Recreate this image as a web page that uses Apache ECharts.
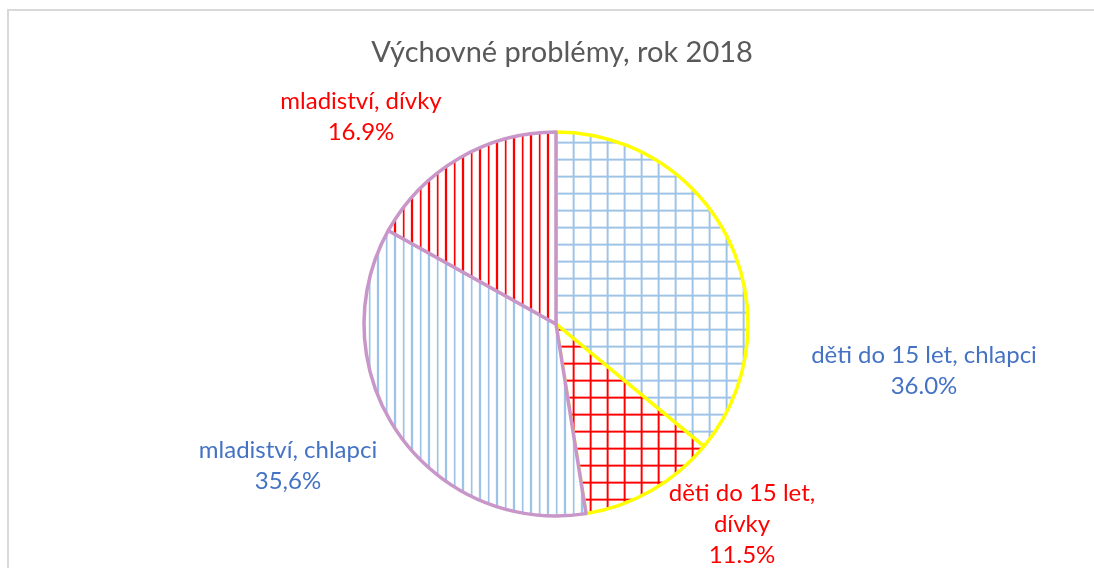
<!DOCTYPE html>
<html><head><meta charset="utf-8">
<script src="https://cdn.jsdelivr.net/npm/echarts@6/dist/echarts.min.js"></script>
<style>html,body{margin:0;padding:0;background:#fff}#c{width:1094px;height:568px}</style>
</head><body><div id="c"></div>
<script>
const titleText = 'Výchovné problémy, rok 2018';
const categories = ['děti do 15 let, chlapci', 'děti do 15 let, dívky', 'mladiství, chlapci', 'mladiství, dívky'];
const values = [36.0, 11.5, 35.6, 16.9];
const pctLabels = ['36.0%', '11.5%', '35,6%', '16.9%'];
const labelNames = ['děti do 15 let, chlapci', 'děti do 15 let,\ndívky', 'mladiství, chlapci', 'mladiství, dívky'];

// styles
const BLUE_LINE = '#9DC3E6', RED_LINE = '#FF0000';
const labelColors = ['#4472C4', '#FF0000', '#4472C4', '#FF0000'];
const borderColors = ['#FFFF00', '#FFFF00', '#C896C8', '#C896C8'];
const labelPos = [[924, 371], [742, 524], [288, 466], [361, 117]];

function gridTile(col) {
  const c = document.createElement('canvas'); c.width = 17; c.height = 17;
  const x = c.getContext('2d');
  x.fillStyle = '#fff'; x.fillRect(0, 0, 17, 17);
  x.globalAlpha = 0.35; x.fillStyle = col;
  x.fillRect(11, 0, 3, 17); x.fillRect(0, 5, 17, 3);
  x.globalAlpha = 1;
  x.fillRect(12, 0, 1.4, 17); x.fillRect(0, 6, 17, 1.4);
  return c;
}
function vertTile(col) {
  const c = document.createElement('canvas'); c.width = 17; c.height = 17;
  const x = c.getContext('2d');
  x.fillStyle = '#fff'; x.fillRect(0, 0, 17, 17);
  x.globalAlpha = 0.3; x.fillStyle = col;
  x.fillRect(2.5, 0, 3, 17); x.fillRect(11.5, 0, 2.5, 17);
  x.globalAlpha = 1;
  x.fillRect(3, 0, 2, 17); x.fillRect(12, 0, 1.3, 17);
  return c;
}
const fills = [gridTile(BLUE_LINE), gridTile(RED_LINE), vertTile(BLUE_LINE), vertTile(RED_LINE)];

const chart = echarts.init(document.getElementById('c'), null, {renderer: 'canvas'});
const fontFam = 'Lato, "Open Sans", sans-serif';
chart.setOption({
  backgroundColor: '#fff',
  animation: false,
  title: {
    text: titleText, left: 557, textAlign: 'center', top: 33,
    textStyle: {fontFamily: fontFam, fontSize: 29, fontWeight: 'normal', color: '#595959'}
  },
  graphic: [{
    type: 'rect', shape: {x: 8, y: 10, width: 1200, height: 700},
    style: {fill: 'none', stroke: '#D9D9D9', lineWidth: 2}, silent: true, z: -1
  }],
  series: [{
    type: 'pie',
    center: [556, 324],
    radius: [0, 192],
    startAngle: 90,
    clockwise: true,
    avoidLabelOverlap: false,
    labelLine: {show: false},
    data: categories.map((n, i) => ({
      name: n, value: values[i],
      itemStyle: {color: {image: fills[i], repeat: 'repeat'}, borderColor: borderColors[i], borderWidth: 3.5},
      label: {
        show: true, position: 'outside',
        formatter: () => labelNames[i] + '\n' + pctLabels[i],
        color: labelColors[i], fontFamily: fontFam, fontSize: 24, lineHeight: 31, align: 'center'
      }
    })),
    labelLayout: (p) => ({x: labelPos[p.dataIndex][0], y: labelPos[p.dataIndex][1], align: 'center', verticalAlign: 'middle'}),
    emphasis: {disabled: true}
  }]
});
</script></body></html>
